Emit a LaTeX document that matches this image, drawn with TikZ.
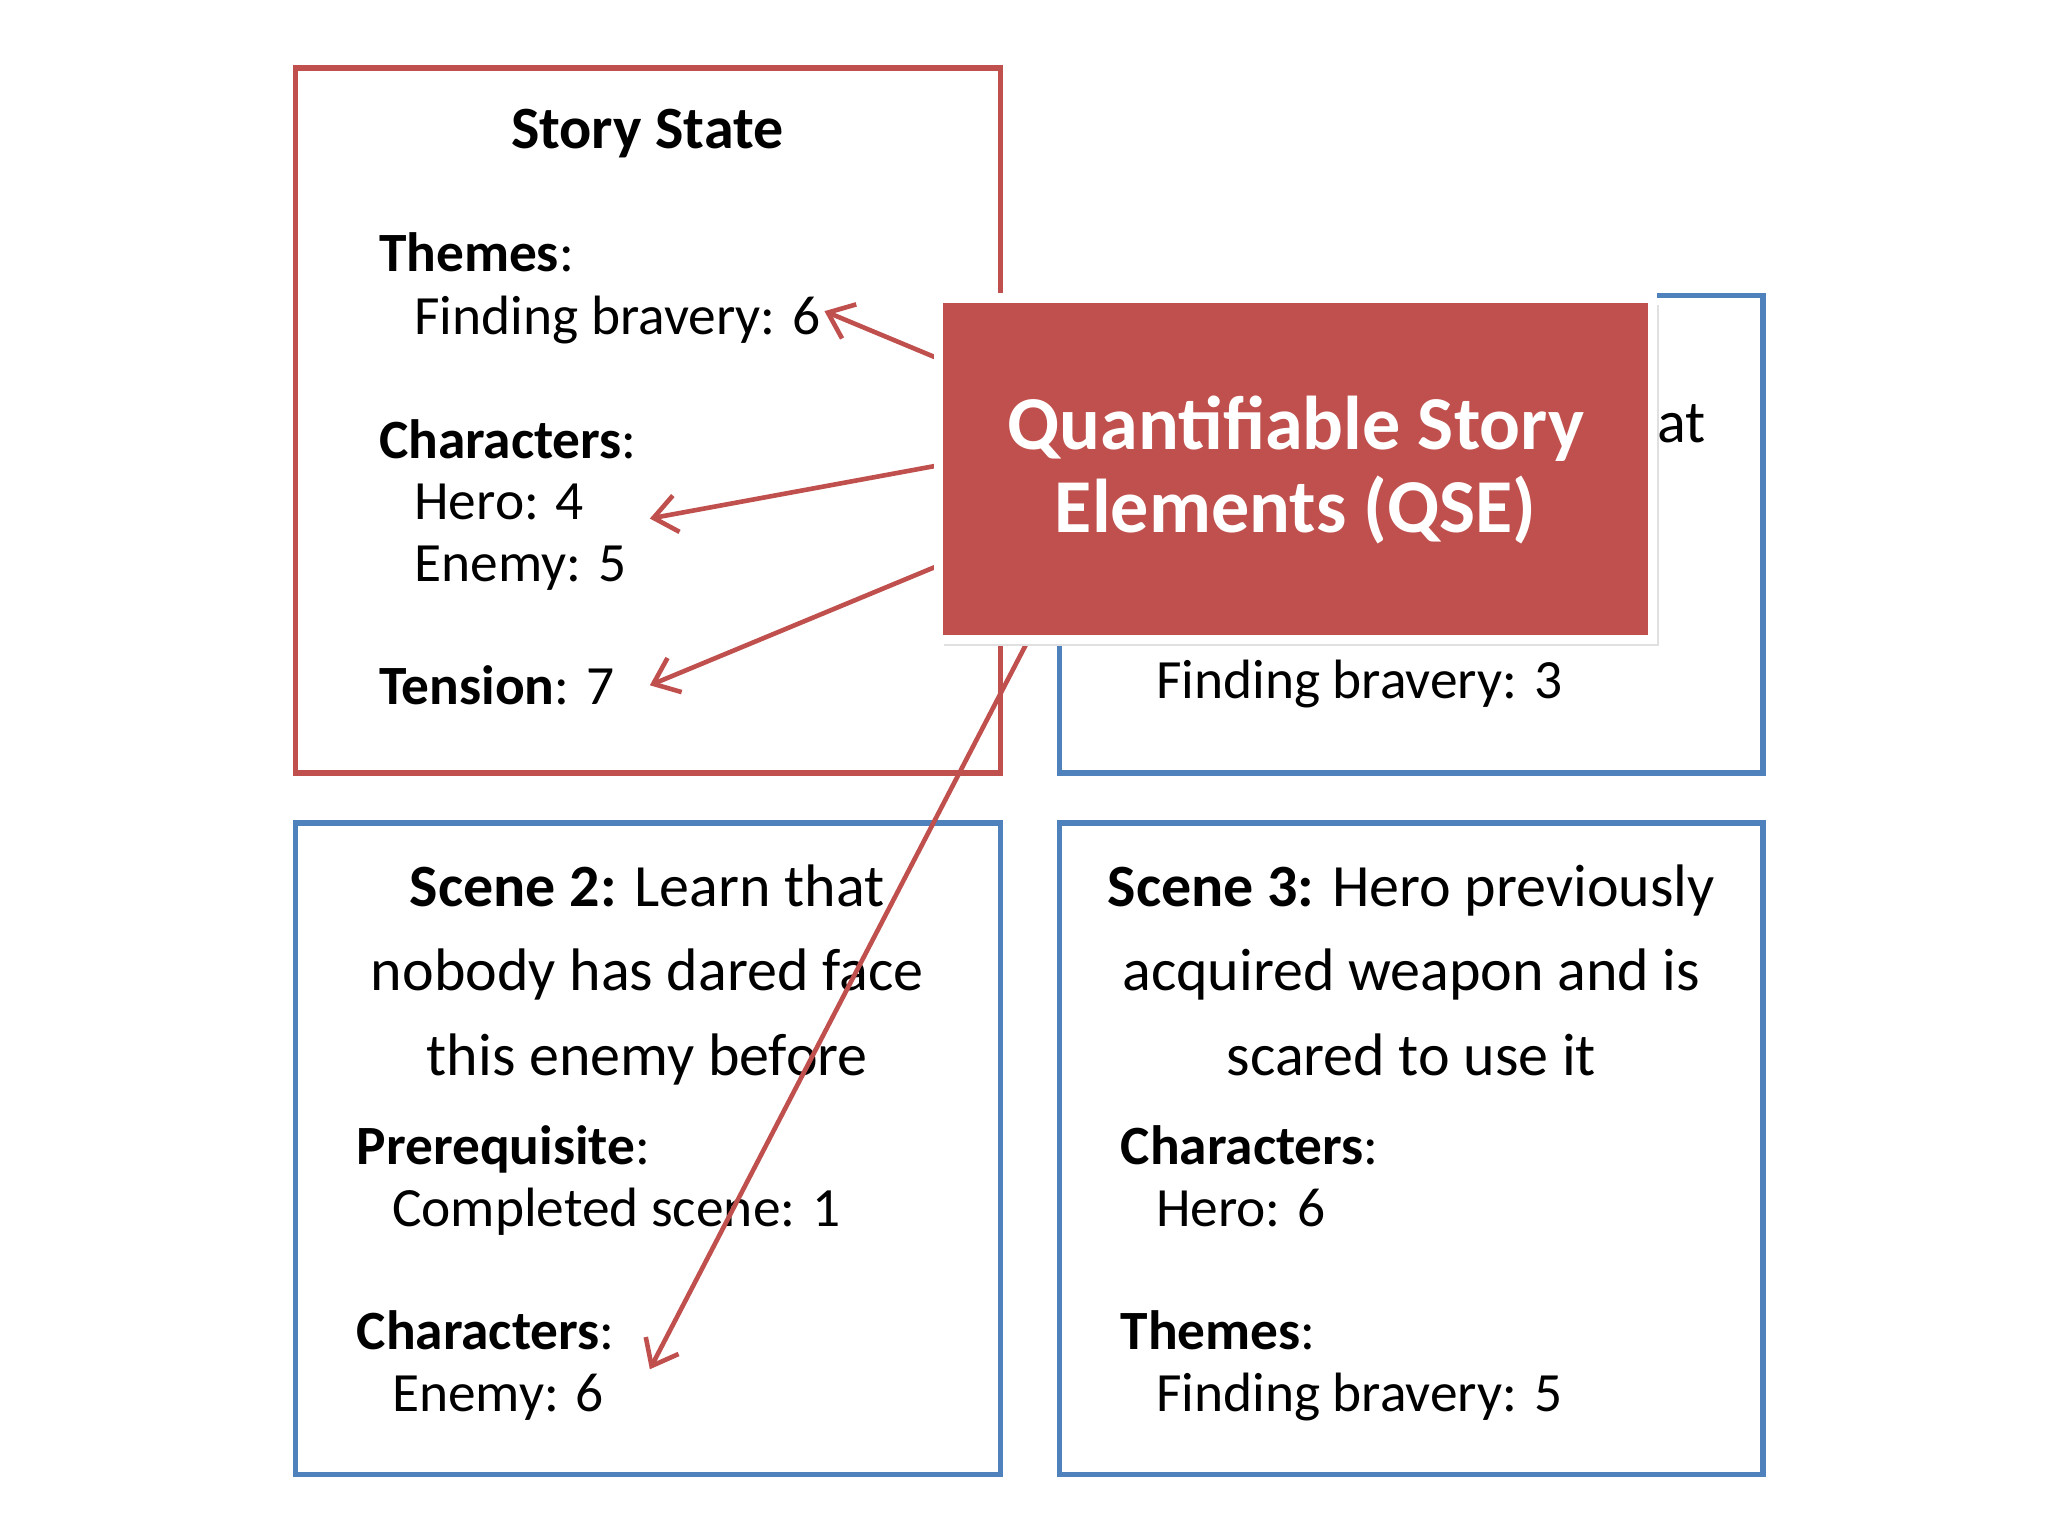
\documentclass[tikz,border=0pt]{standalone}
\usepackage{fontspec}
\setmainfont{Carlito}
\usepackage{tikz}
\usetikzlibrary{arrows.meta,positioning}
\definecolor{qred}{HTML}{C0504D}
\definecolor{qblue}{HTML}{4F81BD}
\tikzset{
  redbox/.style={draw=qred,line width=1.2pt},
  bluebox/.style={draw=qblue,line width=1.2pt},
  txt/.style={anchor=base west,inner sep=0pt,font=\fontsize{12}{14}\selectfont},
  head/.style={anchor=base,inner sep=0pt,align=center,font=\fontsize{13}{15}\selectfont},
  qarrow/.style={draw=qred,line width=1pt,-{Straight Barb[length=5pt,width=8pt]}}
}
\begin{document}
\begin{tikzpicture}[x=0.01cm,y=-0.01cm]
\useasboundingbox (0,0) rectangle (1560,1170);
\draw[redbox] (225,52) rectangle (762,589);
\draw[bluebox] (807,225) rectangle (1343,589);
\draw[bluebox] (225,627) rectangle (762,1123);
\draw[bluebox] (807,627) rectangle (1343,1123);
\node[head,font=\fontsize{13}{15}\selectfont\bfseries] (title) at (493,113) {Story State};
\node[txt] (th) at (288,207) {\textbf{Themes}:};
\node[txt] (fb) at (315,255) {Finding bravery: 6};
\node[txt] (ch) at (288,349) {\textbf{Characters}:};
\node[txt] (h4) at (315,396) {Hero: 4};
\node[txt] (e5) at (315,443) {Enemy: 5};
\node[txt] (t7) at (288,537) {\textbf{Tension}: 7};
\node[txt] (at) at (1262,337) {\fontsize{13}{15}\selectfont at};
\node[txt] (fb3) at (880,532) {Finding bravery: 3};
\node[head,anchor=north,font=\fontsize{13}{18.3}\selectfont] (s2) at (493,658) {\textbf{Scene 2:} Learn that\\nobody has dared face\\this enemy before};
\node[txt] (pr) at (271,887) {\textbf{Prerequisite}:};
\node[txt] (cs) at (298,934) {Completed scene: 1};
\node[txt] (ch2) at (271,1028) {\textbf{Characters}:};
\node[txt] (e6) at (298,1075) {Enemy: 6};
\node[head,anchor=north,font=\fontsize{13}{18.3}\selectfont] (s3) at (1075,658) {\textbf{Scene 3:} Hero previously\\acquired weapon and is\\scared to use it};
\node[txt] (ch3) at (853,887) {\textbf{Characters}:};
\node[txt] (h6) at (880,934) {Hero: 6};
\node[txt] (th3) at (853,1028) {\textbf{Themes}:};
\node[txt] (fb5) at (880,1075) {Finding bravery: 5};
\coordinate (a1) at (712,272);
\coordinate (a2) at (712,355);
\coordinate (a3) at (712,432);
\coordinate (a4) at (782,490);
\draw[qarrow] (a1) -- (628,237) coordinate (b1);
\draw[qarrow] (a2) -- (495,395) coordinate (b2);
\draw[qarrow] (a3) -- (495,522) coordinate (b3);
\draw[qarrow] (a4) -- (495,1043) coordinate (b4);
\fill[black!12] (719,232) rectangle (1264,492);
\draw[fill=qred,draw=white,line width=2pt] (715,227) rectangle (1259,487);
\node[align=center,text=white,font=\fontsize{16.5}{18}\selectfont\bfseries] (qse) at (987,358) {Quantifiable Story\\Elements (QSE)};
\end{tikzpicture}
\end{document}
